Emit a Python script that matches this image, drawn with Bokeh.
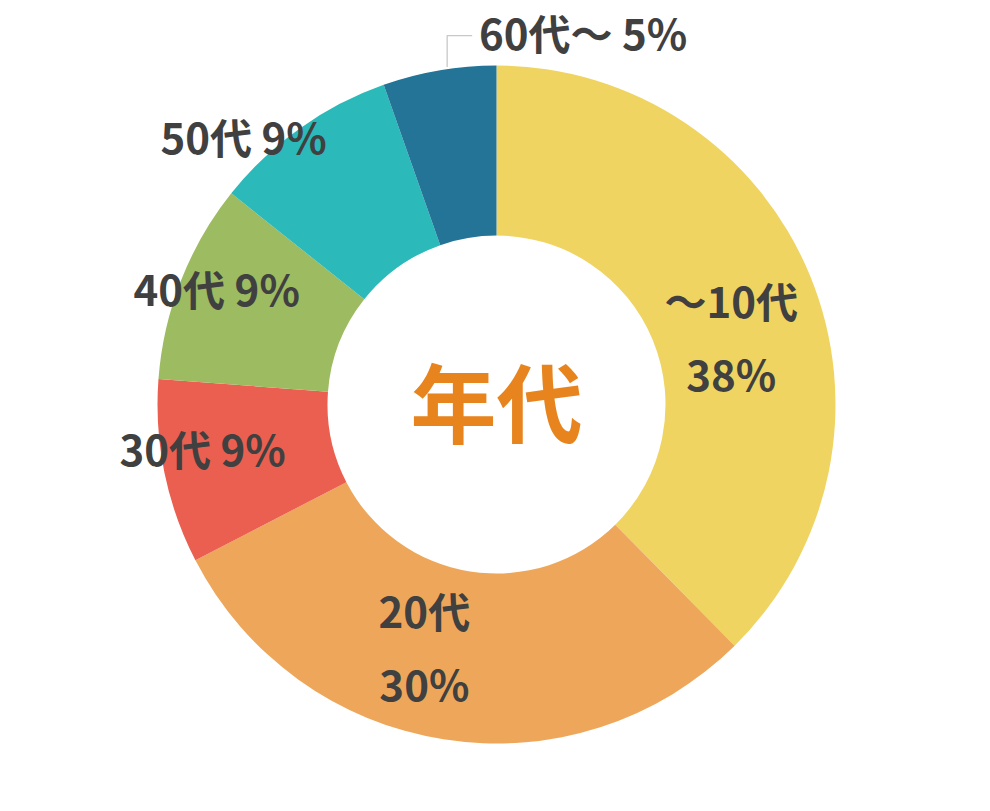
import math
from bokeh.plotting import figure
from bokeh.models import Range1d, ColumnDataSource
from bokeh.core.properties import value
from bokeh.embed import file_html
from bokeh.resources import INLINE

# ---- data ----
categories = ["～10代", "20代", "30代", "40代", "50代", "60代～"]
shares = [37.6, 29.8, 8.8, 9.5, 8.9, 5.4]
pct_labels = ["38%", "30%", "9%", "9%", "9%", "5%"]
center_title = "年代"

# ---- style / layout ----
colors = ["#F0D462", "#EEA75A", "#EB5F50", "#9DBB61", "#2BB9B9", "#247498"]
FONT = "Noto Sans CJK JP"
TXT = "#404040"
W, H = 974, 795
CX, CY = 496, -404
R_OUT, R_IN = 339, 169
TEXT_DY = 6  # baseline correction
# label placement: (angle tweak in deg clockwise, radius, two_lines)
label_layout = [(7.3, 243, True), (7.3, 257, True), (2.0, 298, False),
                (0.2, 301, False), (-8.4, 365, False), (23.0, 377, False)]
LEADER_DTH = 1.4

p = figure(width=W, height=H, output_backend="svg", toolbar_location=None,
           x_range=Range1d(0, W), y_range=Range1d(-H, 0),
           min_border=0, background_fill_color="white", border_fill_color="white")
p.axis.visible = False
p.grid.visible = False
p.outline_line_color = None

total = sum(shares)
starts, ends, mids = [], [], []
cum = 0.0
for s in shares:
    a0 = cum / total
    cum += s
    a1 = cum / total
    starts.append(math.pi / 2 - 2 * math.pi * a0)
    ends.append(math.pi / 2 - 2 * math.pi * a1)
    mids.append(360 * (a0 + a1) / 2)

src = ColumnDataSource(dict(start=starts, end=ends, color=colors, cat=categories))
p.annular_wedge(x=CX, y=CY, inner_radius=R_IN, outer_radius=R_OUT,
                start_angle="start", end_angle="end", direction="clock",
                fill_color="color", line_color=None, source=src)

tx, ty, tt = [], [], []
for cat, pct, mid, (dth, r, two) in zip(categories, pct_labels, mids, label_layout):
    ang = math.radians(mid + dth)
    x = CX + r * math.sin(ang)
    y = CY + r * math.cos(ang)
    if two:
        tx += [x, x]
        ty += [y + 36, y - 37]
        tt += [cat, pct]
    else:
        tx.append(x)
        ty.append(y)
        tt.append(f"{cat} {pct}")

p.text(x=tx, y=[v + TEXT_DY for v in ty], text=tt, text_font=value(FONT),
       text_font_style="bold", text_font_size="42px", text_color=TXT,
       text_align="center", text_baseline="middle")

# leader line for the last (small) slice
last_mid = math.radians(mids[-1] + LEADER_DTH)
lx0 = CX + (R_OUT + 2) * math.sin(last_mid)
ly0 = CY + (R_OUT + 2) * math.cos(last_mid)
ly1 = ty[-1] + 2
p.line(x=[lx0, lx0, lx0 + 25], y=[ly0, ly1, ly1], line_color="#C8C8C8", line_width=1.3)

p.text(x=[CX], y=[CY + 5], text=[center_title], text_font=value(FONT),
       text_font_style="bold", text_font_size="86px", text_color="#E8841E",
       text_align="center", text_baseline="middle")

open("out.html", "w").write(file_html(p, INLINE))
